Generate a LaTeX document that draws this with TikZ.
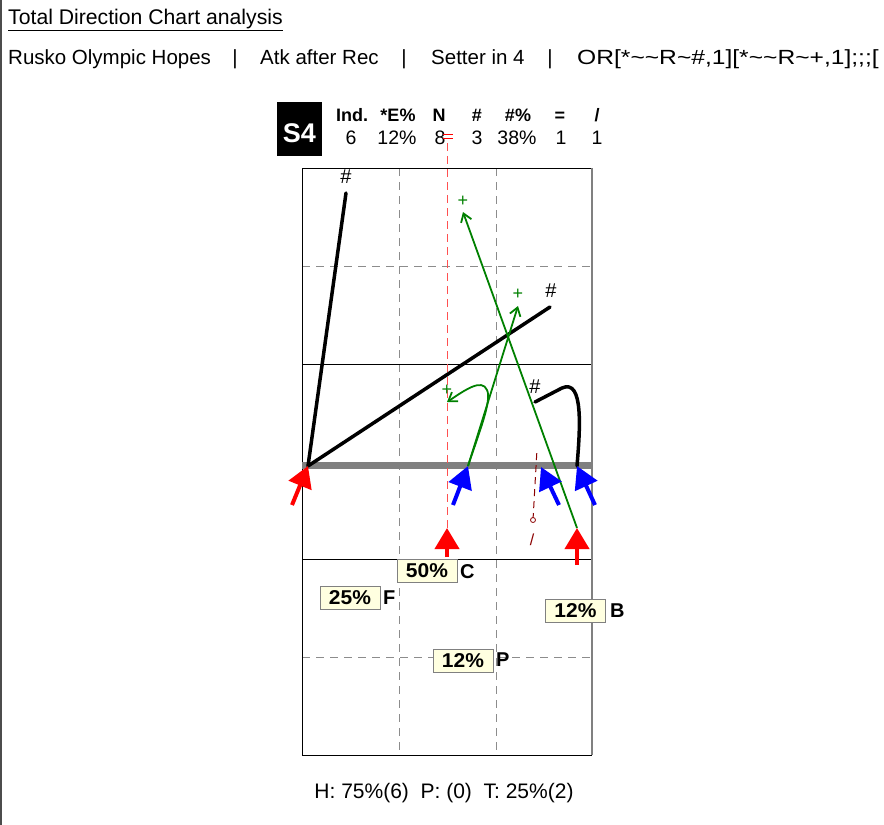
\documentclass[tikz,border=0pt]{standalone}
\usepackage{fontspec}
\setmainfont{Liberation Sans}
\newfontfamily\boxfont[FakeStretch=1.05]{Liberation Sans}
\usetikzlibrary{arrows.meta}
\definecolor{netgray}{RGB}{128,128,128}
\definecolor{dashgray}{RGB}{140,140,140}
\definecolor{boxfill}{RGB}{255,255,224}
\definecolor{gline}{RGB}{0,128,0}
\definecolor{dred}{RGB}{139,0,0}
\definecolor{lred}{RGB}{255,80,80}
\tikzset{
  courtline/.style={black, line width=1},
  dashline/.style={dashgray, line width=1, dash pattern=on 8pt off 6pt},
  redarrow/.style={red, line width=4, -{Triangle[width=24pt,length=21pt]}},
  bluearrow/.style={blue, line width=4, -{Triangle[width=24pt,length=22pt]}},
  blackatk/.style={black, line width=3.5, line cap=round},
  greenatk/.style={gline, line width=1.8, -{Straight Barb[length=8pt,width=11pt]}},
  hashlbl/.style={black, inner sep=0, font=\fontsize{20}{20}\selectfont},
  pluslbl/.style={gline, inner sep=0, font=\fontsize{18}{18}\selectfont},
  pbox/.style={draw=netgray, line width=1, fill=boxfill, inner sep=0, minimum width=60pt, minimum height=23pt, font=\boxfont\bfseries\fontsize{20}{20}\selectfont},
  zlbl/.style={inner sep=0, anchor=west, font=\bfseries\fontsize{20}{20}\selectfont},
  hdr/.style={inner sep=0, anchor=base, font=\bfseries\fontsize{18}{18}\selectfont},
  val/.style={inner sep=0, anchor=base, font=\fontsize{19.5}{20}\selectfont},
  topline/.style={inner sep=0, anchor=base west, font=\fontsize{20.5}{22}\selectfont},
}
\begin{document}
\begin{tikzpicture}[x=1pt,y=-1pt]
\useasboundingbox (0,0) rectangle (884,825);
\draw[gray!60!black, line width=1.3] (1,0) -- (1,825);

% header texts
\node[topline, font=\fontsize{21.2}{22}\selectfont] (title) at (8,24) {\underline{Total Direction Chart analysis}};
\begin{scope}
\clip (0,30) rectangle (884,80);
\node[topline] (team) at (8,64) {Rusko Olympic Hopes};
\node[topline, anchor=base] (sep1) at (235,64) {|};
\node[topline] (atk) at (260,64) {Atk after Rec};
\node[topline, anchor=base] (sep2) at (404,64) {|};
\node[topline] (setter) at (431,64) {Setter in 4};
\node[topline, anchor=base] (sep3) at (550,64) {|};
\node[topline] (code) at (577,64) {\scalebox{1.2}[1]{OR[*\textasciitilde\textasciitilde R\textasciitilde\#,1][*\textasciitilde\textasciitilde R\textasciitilde+,1];;;[}};
\end{scope}

% S4 box and stats
\node[fill=black, minimum width=45pt, minimum height=54pt, inner sep=0] (s4box) at (299.5,129) {};
\node[white, inner sep=0, anchor=base, font=\bfseries\fontsize{27}{27}\selectfont] (s4) at (299.5,142) {S4};
\node[hdr] (h1) at (352,121) {Ind.};
\node[hdr] (h2) at (398,121) {*E\%};
\node[hdr] (h3) at (439,121) {N};
\node[hdr] (h4) at (477,121) {\#};
\node[hdr] (h5) at (518,121) {\#\%};
\node[hdr] (h6) at (560,121) {=};
\node[hdr] (h7) at (597,121) {/};
\node[val] (v1) at (351,144) {6};
\node[val] (v2) at (397,144) {12\%};
\node[val] (v3) at (440,144) {8};
\node[val] (v4) at (477,144) {3};
\node[val] (v5) at (517,144) {38\%};
\node[val] (v6) at (561,144) {1};
\node[val] (v7) at (597,144) {1};

% court
\draw[dashline] (399,168) -- (399,755);
\draw[dashline] (496,168) -- (496,755);
\draw[dashline] (302,266) -- (592,266);
\draw[dashline] (302,657) -- (592,657);
\draw[courtline] (302,364) -- (592,364);
\draw[courtline] (302,559) -- (592,559);
\draw[courtline] (592,168) -- (302,168) -- (302,755) -- (592,755);
\draw[netgray, line width=1.3] (592,168) -- (592,755);
\draw[netgray, line width=7] (302,465) -- (592,465);

% setter line
\draw[lred, line width=1, dash pattern=on 8pt off 5pt] (447,143) -- (447,528);
\draw[red, line width=1] (443,134) -- (453,134) (443,138) -- (453,138);

% coordinates
\coordinate (r1s) at (292,505); \coordinate (r1e) at (308,466);
\coordinate (r2s) at (447,557); \coordinate (r2e) at (447,528);
\coordinate (r3s) at (577,565); \coordinate (r3e) at (577,528);
\coordinate (b1s) at (453,505); \coordinate (b1e) at (468,466);
\coordinate (b2s) at (559,505); \coordinate (b2e) at (541,467);
\coordinate (b3s) at (595,505); \coordinate (b3e) at (577,466);
\coordinate (k1e) at (346,193);
\coordinate (k2e) at (550,307);
\coordinate (k3e) at (535,402);
\coordinate (g1e) at (463,212);
\coordinate (g2e) at (518,306);
\coordinate (g3e) at (447,402);
\coordinate (d1s) at (533,520); \coordinate (d1e) at (537,449);

% black attacks
\draw[blackatk] (r1e) -- (k1e);
\draw[blackatk] (r1e) -- (k2e);
\draw[blackatk] (b3e) .. controls (580,430) and (584,378) .. (562,388) -- (k3e);
\node[hashlbl] (k1l) at (346,177) {\#};
\node[hashlbl] (k2l) at (551,291) {\#};
\node[hashlbl] (k3l) at (535,387) {\#};

% green attacks
\draw[greenatk] (r3e) -- (g1e);
\draw[greenatk] (b1e) -- (g2e);
\draw[greenatk] (b1e) .. controls (480,430) and (492,400) .. (487,390) .. controls (482,378) and (465,390) .. (g3e);
\node[pluslbl] (g1l) at (463,201) {+};
\node[pluslbl] (g2l) at (518,294) {+};
\node[pluslbl] (g3l) at (447,390) {+};

% dark red dashed attack
\draw[dred, line width=1, dash pattern=on 7pt off 5pt] (d1s) -- (d1e);
\draw[dred, line width=0.8, fill=white] (d1s) circle (2.5);
\node[dred, inner sep=0, font=\fontsize{16}{16}\selectfont] (d1l) at (532,540) {/};

% arrows
\draw[redarrow] (r1s) -- (r1e);
\draw[redarrow] (r2s) -- (r2e);
\draw[redarrow] (r3s) -- (r3e);
\draw[bluearrow] (b1s) -- (b1e);
\draw[bluearrow] (b2s) -- (b2e);
\draw[bluearrow] (b3s) -- (b3e);

% percentage boxes
\node[pbox] (pc) at (427,571) {50\%};
\node[zlbl] (lc) at (460,572) {C};
\node[pbox] (pf) at (350,598) {25\%};
\node[zlbl] (lf) at (383,598) {F};
\node[pbox] (pb) at (575.5,611) {12\%};
\node[zlbl] (lb) at (610,611) {B};
\node[pbox] (pp) at (463,660.5) {12\%};
\node[zlbl] (lp) at (496,660) {P};

% bottom summary
\node[inner sep=0, font=\fontsize{21}{21}\selectfont] (summary) at (444,793) {H: 75\%(6)\ \ P: (0)\ \ T: 25\%(2)};
\end{tikzpicture}
\end{document}
